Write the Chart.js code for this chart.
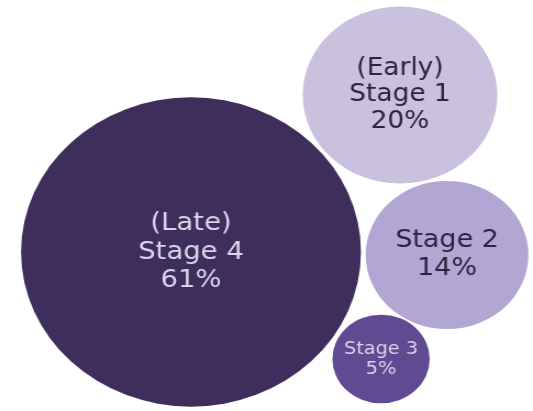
<!DOCTYPE html>
<html>
<head>
<meta charset="utf-8">
<script src="https://cdn.jsdelivr.net/npm/chart.js@4/dist/chart.umd.min.js"></script>
<style>
  html, body { margin: 0; padding: 0; background: #fff; }
  /* the source picture is stretched a little sideways, so is this one */
  #wrap { width: 485px; height: 411px; transform: scaleX(1.099); transform-origin: 0 0; }
</style>
</head>
<body>
<div id="wrap"><canvas id="myChart" width="485" height="411"></canvas></div>
<script>
// stages, share of cases and where each bubble sits (picture units)
var stages = ['Stage 4', 'Stage 1', 'Stage 2', 'Stage 3'];
var tags = ['(Late)', '(Early)', '', ''];
var percents = [61, 20, 14, 5];
var bubbleX = [191, 400, 447, 381];
var bubbleY = [252, 95, 255, 359];
var fills = ['#3e2e5c', '#c9c1dd', '#b2a7d3', '#604a92'];
var textColors = ['#dcd4ec', '#2c2340', '#2c2340', '#dcd4ec'];
var fontSizes = [25, 24, 24.5, 17.5];
var lineHeights = [28.5, 26.5, 28, 20];

var k = 19.8; // bubble radius per sqrt(percent)

var points = [];
for (var i = 0; i < stages.length; i++) {
  points.push({ x: bubbleX[i], y: bubbleY[i], r: k * Math.sqrt(percents[i]) });
}

// writes the stage text inside every bubble
var bubbleText = {
  id: 'bubbleText',
  afterDatasetsDraw: function(chart) {
    var ctx = chart.ctx;
    var meta = chart.getDatasetMeta(0);
    ctx.save();
    ctx.textAlign = 'center';
    ctx.textBaseline = 'middle';
    meta.data.forEach(function(el, j) {
      var lines = [];
      if (tags[j]) lines.push(tags[j]);
      lines.push(stages[j]);
      lines.push(percents[j] + '%');
      var lh = lineHeights[j];
      ctx.font = fontSizes[j] + 'px "DejaVu Sans"';
      ctx.fillStyle = textColors[j];
      var top = el.y - (lines.length - 1) * lh / 2;
      for (var n = 0; n < lines.length; n++) {
        ctx.fillText(lines[n], el.x, top + n * lh);
      }
    });
    ctx.restore();
  }
};

var ctx = document.getElementById('myChart').getContext('2d');
var myChart = new Chart(ctx, {
  type: 'bubble',
  data: {
    datasets: [{
      label: 'stages',
      data: points,
      backgroundColor: fills,
      borderWidth: 0,
      clip: false
    }]
  },
  options: {
    responsive: false,
    animation: false,
    events: [],
    layout: { padding: 0, autoPadding: false },
    plugins: { legend: { display: false }, tooltip: { enabled: false } },
    scales: {
      x: { display: false, min: 0, max: 533 },
      y: { display: false, min: 0, max: 411, reverse: true }
    }
  },
  plugins: [bubbleText]
});
</script>
</body>
</html>
